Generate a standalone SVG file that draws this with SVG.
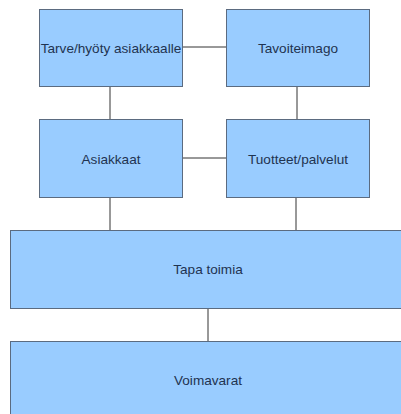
<svg xmlns="http://www.w3.org/2000/svg" width="401" height="414" viewBox="0 0 401 414">
<style>
.box{fill:#99ccff;stroke:#5b6b80;stroke-width:1}
.lbl{font-family:"Liberation Sans",Arial,sans-serif;font-size:13.6px;fill:#1f3350;text-anchor:middle;dominant-baseline:central}
.con{stroke:#333;stroke-width:1;fill:none}
</style>
<rect width="401" height="414" fill="#ffffff"/>
<g id="connectors">
<line class="con" x1="182" y1="47" x2="226" y2="47"/>
<line class="con" x1="182" y1="158" x2="226" y2="158"/>
<line class="con" x1="110" y1="86" x2="110" y2="119"/>
<line class="con" x1="297" y1="86" x2="297" y2="119"/>
<line class="con" x1="110" y1="197" x2="110" y2="230"/>
<line class="con" x1="296" y1="197" x2="296" y2="230"/>
<line class="con" x1="208" y1="308" x2="208" y2="341"/>
</g>
<g id="n1"><rect class="box" x="39.5" y="9.5" width="143" height="77"/><text class="lbl" x="111" y="48">Tarve/hyöty asiakkaalle</text></g>
<g id="n2"><rect class="box" x="226.5" y="9.5" width="143" height="77"/><text class="lbl" x="298" y="48">Tavoiteimago</text></g>
<g id="n3"><rect class="box" x="39.5" y="119.5" width="143" height="78"/><text class="lbl" x="111" y="159">Asiakkaat</text></g>
<g id="n4"><rect class="box" x="226.5" y="119.5" width="143" height="78"/><text class="lbl" x="298" y="159">Tuotteet/palvelut</text></g>
<g id="n5"><rect class="box" x="10.5" y="230.5" width="400" height="78"/><text class="lbl" x="208" y="269">Tapa toimia</text></g>
<g id="n6"><rect class="box" x="10.5" y="341.5" width="400" height="90"/><text class="lbl" x="208" y="380">Voimavarat</text></g>
</svg>
